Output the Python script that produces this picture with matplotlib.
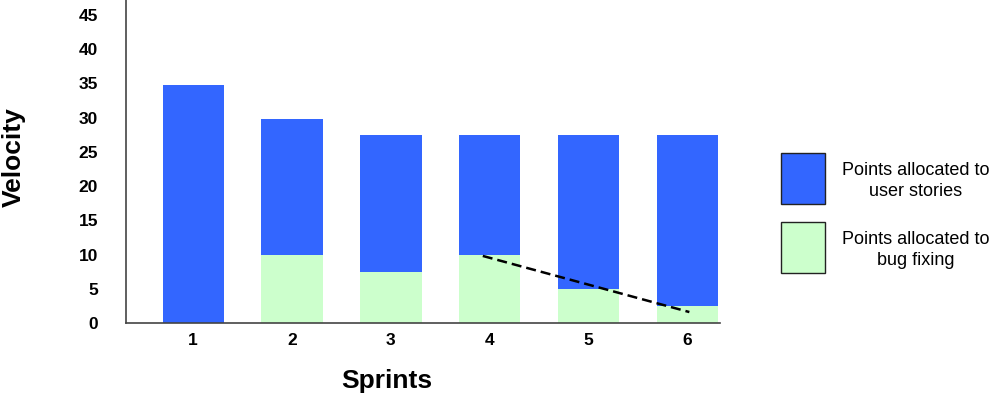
import matplotlib
matplotlib.use("Agg")
import matplotlib.pyplot as plt
from matplotlib.patches import Rectangle

plt.rcParams['font.family'] = ['Liberation Sans', 'DejaVu Sans']

sprints = [1, 2, 3, 4, 5, 6]
sprint_labels = ['1', '2', '3', '4', '5', '6']
bug_points = [0, 10, 7.5, 10, 5, 2.5]
story_points = [34.8, 19.8, 20, 17.5, 22.5, 25]
trend_x = [3.93, 6.02]
trend_y = [9.8, 1.6]
legend_labels = ['Points allocated to\nuser stories', 'Points allocated to\nbug fixing']
y_ticks = [0, 5, 10, 15, 20, 25, 30, 35, 40, 45]

blue = '#3366FF'
green = '#CCFFCC'

fig = plt.figure(figsize=(10, 3.96), dpi=100)
ax = fig.add_axes([0.126, 1 - 323 / 396, 0.594, 323 / 396])

ax.bar(sprints, bug_points, width=0.62, color=green, edgecolor='none')
ax.bar(sprints, story_points, bottom=bug_points, width=0.62, color=blue, edgecolor='none')
ax.plot(trend_x, trend_y, color='black', linestyle=(0, (4, 2)), linewidth=1.8)

ax.set_xlim(0.32, 6.33)
ax.set_ylim(0, 47.2)
ax.set_xticks(sprints)
ax.set_xticklabels(sprint_labels, fontsize=12.5, fontweight='bold')
ax.set_yticks(y_ticks)
ax.set_yticklabels([str(t) for t in y_ticks], fontsize=12.5, fontweight='bold')
ax.tick_params(axis='both', length=0)
ax.tick_params(axis='y', pad=20)
ax.tick_params(axis='x', pad=7)
for s in ['top', 'right']:
    ax.spines[s].set_visible(False)
for s in ['left', 'bottom']:
    ax.spines[s].set_color('#444444')
    ax.spines[s].set_linewidth(1.2)

fig.text(14 / 1000, 1 - 157 / 396, 'Velocity', rotation=90, fontsize=19, fontweight='bold',
         ha='center', va='center')
fig.text(387 / 1000, 1 - 381 / 396, 'Sprints', fontsize=19, fontweight='bold',
         ha='center', va='center')

# legend
W, H = 1000, 396
boxes = [(781, 153, blue), (781, 222, green)]
for (x0, y0, c), lab in zip(boxes, legend_labels):
    fig.add_artist(Rectangle((x0 / W, 1 - (y0 + 51) / H), 44 / W, 51 / H,
                             transform=fig.transFigure, facecolor=c, edgecolor='#222222',
                             linewidth=1.0))
    fig.text(916 / W, 1 - (y0 + 28) / H, lab, fontsize=13, ha='center', va='center',
             linespacing=1.35)

fig.savefig('out.png', dpi=100)
